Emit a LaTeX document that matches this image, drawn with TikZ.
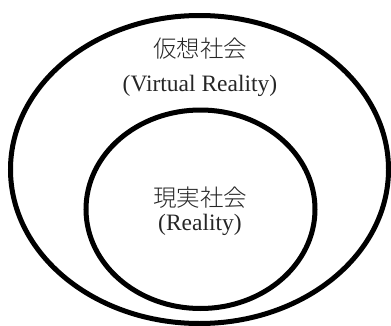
\documentclass[tikz,border=0pt]{standalone}
\usepackage{fontspec}
\setmainfont{Liberation Serif}
\newfontfamily\cjk{Noto Sans CJK JP Light}
\begin{document}
\begin{tikzpicture}[x=1pt,y=1pt,
  ring/.style={draw=black,line width=5pt},
  lbl/.style={inner sep=0pt,anchor=base,text=black!85,font=\fontsize{23.5}{26}\selectfont},
  jlbl/.style={inner sep=0pt,anchor=base,text=black!85,font=\fontsize{23.5}{26}\selectfont\cjk}]
\useasboundingbox (0,0) rectangle (391,325);
\draw[ring] (199.5,155.5) ellipse [x radius=189, y radius=154];
\draw[ring] (200.5,115.75) ellipse [x radius=114.5, y radius=99.25];
\node[jlbl] (vjp) at (200,268) {仮想社会};
\node[lbl] (ven) at (200,233.5) {(Virtual Reality)};
\node[jlbl] (rjp) at (200,119) {現実社会};
\node[lbl] (ren) at (200,94.5) {(Reality)};
\end{tikzpicture}
\end{document}
